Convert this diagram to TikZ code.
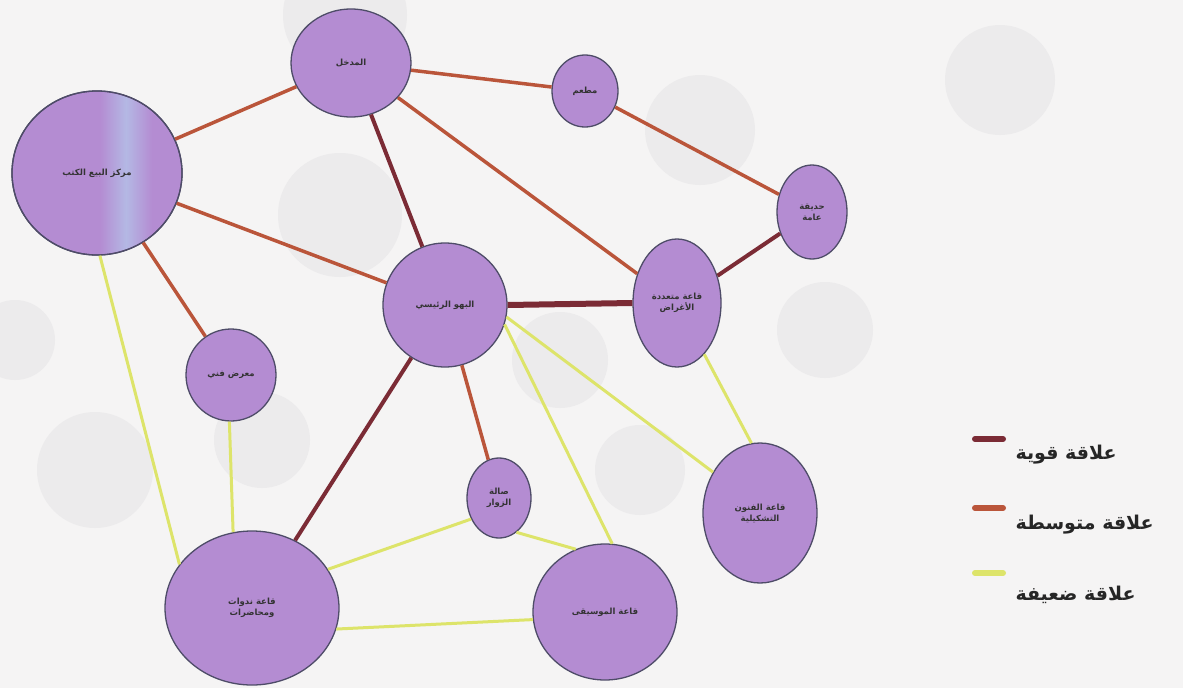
\documentclass[tikz,border=0pt]{standalone}
\usepackage{fontspec}
\usetikzlibrary{shapes.geometric}
\newfontfamily\arabicfont[Script=Arabic]{DejaVu Sans}
\TeXXeTstate=1
\newcommand{\RL}[1]{\beginR #1\endR}
\definecolor{bgcol}{HTML}{F5F4F4}
\definecolor{ghost}{HTML}{ECEBEC}
\definecolor{roomfill}{HTML}{B48CD2}
\definecolor{stripe}{HTML}{B4B8E4}
\definecolor{roomline}{HTML}{4E4C68}
\definecolor{strongc}{HTML}{7B2B35}
\definecolor{mediumc}{HTML}{BA553A}
\definecolor{weakc}{HTML}{DDE46A}
\tikzset{
  room/.style={ellipse, draw=roomline, line width=1.3pt, fill=roomfill, inner sep=0pt,
     font=\arabicfont\bfseries\fontsize{8.5}{11}\selectfont, text=black!80, align=center},
  strongrel/.style={draw=strongc, line width=4pt},
  mediumrel/.style={draw=mediumc, line width=3.5pt},
  weakrel/.style={draw=weakc, line width=3pt},
  ghostc/.style={fill=ghost, draw=none},
  legendtext/.style={font=\arabicfont\bfseries\fontsize{19}{22}\selectfont, anchor=west, text=black!85},
  swatch/.style={line width=6pt, line cap=round}
}
\begin{document}
\begin{tikzpicture}[x=1pt,y=-1pt]
\fill[bgcol] (0,0) rectangle (1183,688);
\useasboundingbox (0,0) rectangle (1183,688);
% faint background circles
\fill[ghostc] (345,15) circle (62);
\fill[ghostc] (700,130) circle (55);
\fill[ghostc] (825,330) circle (48);
\fill[ghostc] (340,215) circle (62);
\fill[ghostc] (95,470) circle (58);
\fill[ghostc] (262,440) circle (48);
\fill[ghostc] (560,360) circle (48);
\fill[ghostc] (15,340) circle (40);
\fill[ghostc] (640,470) circle (45);
\fill[ghostc] (1000,80) circle (55);
% rooms
\node[room, minimum width=120pt, minimum height=108pt] (entrance) at (351,63) {\RL{المدخل}};
\node[room, minimum width=66pt, minimum height=72pt] (rest) at (585,91) {\RL{مطعم}};
\node[room, minimum width=170pt, minimum height=164pt] (books) at (97,173) {};
\begin{scope}
  \clip (97,173) ellipse [x radius=84, y radius=81];
  \shade[left color=roomfill, right color=roomfill, middle color=stripe] (100,90) rectangle (152,260);
\end{scope}
\draw[roomline, line width=1.3pt] (97,173) ellipse [x radius=85, y radius=82];
\node[font=\arabicfont\bfseries\fontsize{8.5}{11}\selectfont, text=black!80] (bookslabel) at (books.center) {\RL{مركز البيع الكتب}};
\node[room, minimum width=70pt, minimum height=94pt] (garden) at (812,212) {\RL{حديقة}\\\RL{عامة}};
\node[room, minimum width=124pt, minimum height=124pt] (lobby) at (445,305) {\RL{البهو الرئيسي}};
\node[room, minimum width=88pt, minimum height=128pt] (multi) at (677,303) {\RL{قاعة متعددة}\\\RL{الأغراض}};
\node[room, minimum width=90pt, minimum height=92pt] (gallery) at (231,375) {\RL{معرض فني}};
\node[room, minimum width=64pt, minimum height=80pt] (small) at (499,498) {\RL{صالة}\\\RL{الزوار}};
\node[room, minimum width=114pt, minimum height=140pt] (arts) at (760,513) {\RL{قاعة الفنون}\\\RL{التشكيلية}};
\node[room, minimum width=174pt, minimum height=154pt] (lecture) at (252,608) {\RL{قاعة ندوات}\\\RL{ومحاضرات}};
\node[room, minimum width=144pt, minimum height=136pt] (music) at (605,612) {\RL{قاعة الموسيقى}};
% strong relations
\draw[strongrel] (entrance) -- (lobby);
\draw[strongrel, line width=6pt] (lobby.east) -- (multi.west);
\draw[strongrel] (multi) -- (garden);
\draw[strongrel] (lobby) -- (lecture);
% medium relations
\draw[mediumrel] (books) -- (entrance);
\draw[mediumrel] (entrance) -- (rest);
\draw[mediumrel] (rest) -- (garden);
\draw[mediumrel] (entrance) -- (multi);
\draw[mediumrel] (books) -- (lobby);
\draw[mediumrel] (books) -- (gallery);
\draw[mediumrel] (lobby) -- (small);
% weak relations
\draw[weakrel] (books.-88) -- (lecture.149);
\draw[weakrel] (gallery.-92) -- (lecture.104);
\draw[weakrel] (lobby.-11) -- (arts.139);
\draw[weakrel] (lobby.-18) -- (music.84);
\draw[weakrel] (small.-63) -- (music.115);
\draw[weakrel] (small.217) -- (lecture.27);
\draw[weakrel] (lecture.-14) -- (music.186);
\draw[weakrel] (multi.-62) -- (arts.97);
% legend
\coordinate (s1a) at (975,439); \coordinate (s1b) at (1003,439);
\coordinate (s2a) at (975,508); \coordinate (s2b) at (1003,508);
\coordinate (s3a) at (975,573); \coordinate (s3b) at (1003,573);
\draw[swatch, strongc] (s1a) -- (s1b);
\draw[swatch, mediumc] (s2a) -- (s2b);
\draw[swatch, weakc] (s3a) -- (s3b);
\node[legendtext] (l1) at (1012,455) {\RL{علاقة قوية}};
\node[legendtext] (l2) at (1012,525) {\RL{علاقة متوسطة}};
\node[legendtext] (l3) at (1012,595) {\RL{علاقة ضعيفة}};
\end{tikzpicture}
\end{document}
